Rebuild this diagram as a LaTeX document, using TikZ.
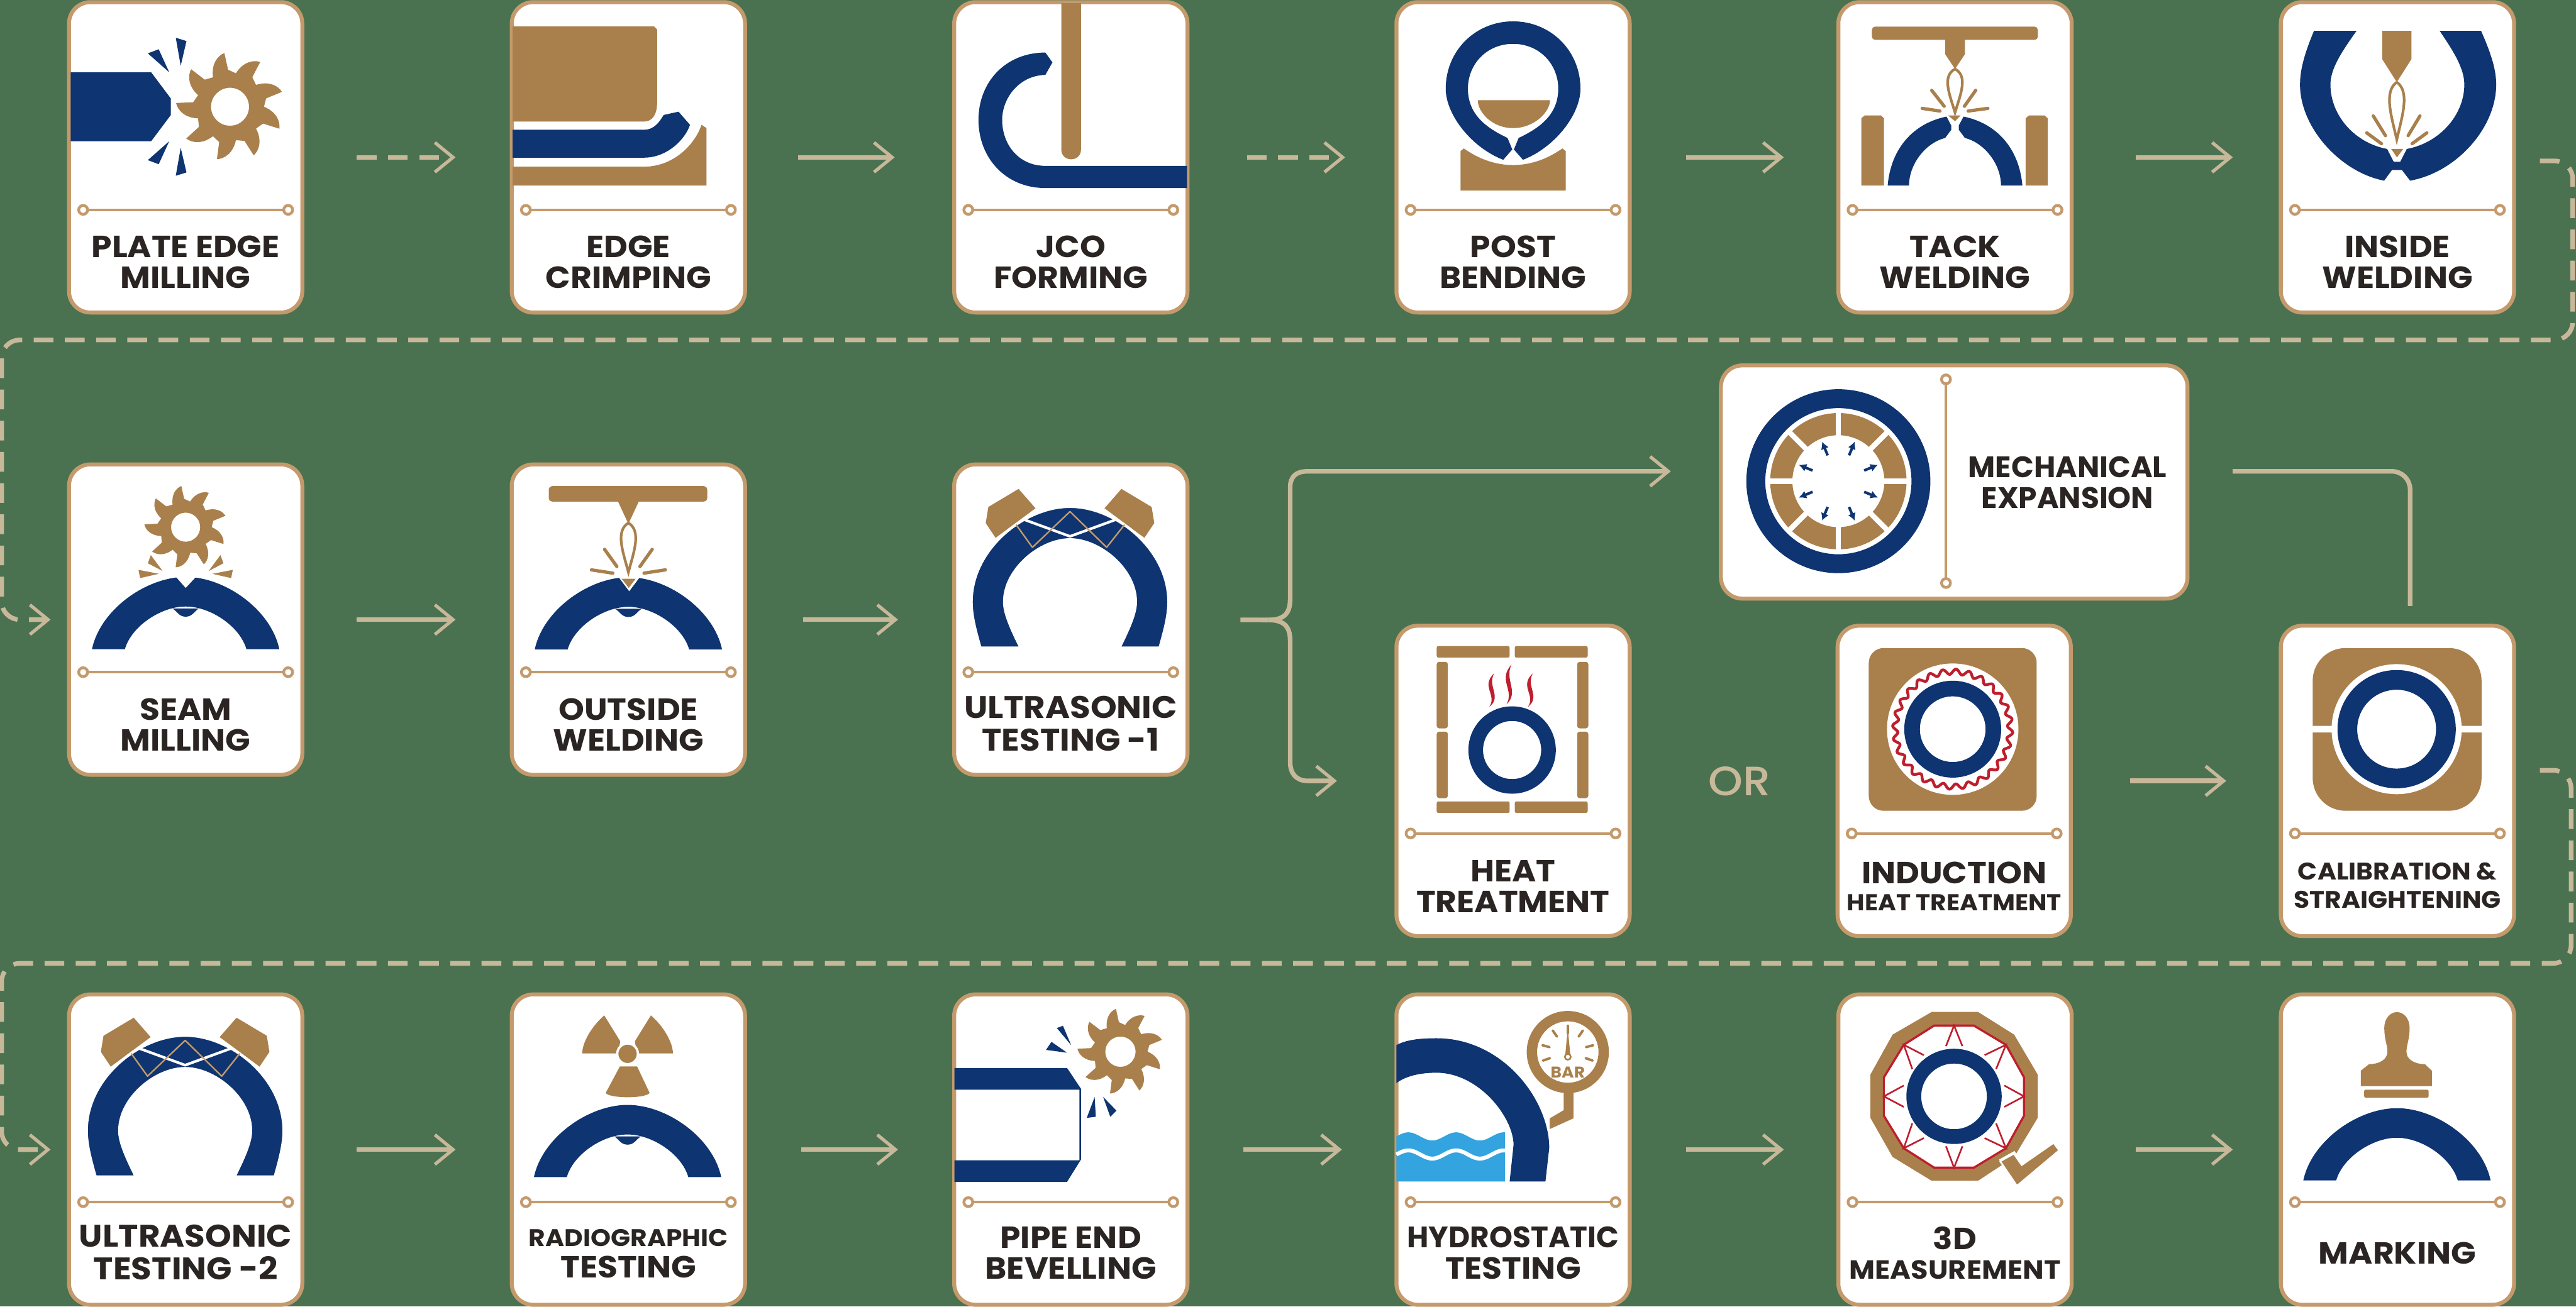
\documentclass[tikz,border=0pt]{standalone}
\usepackage{fontspec}
\setmainfont{Poppins}[FakeStretch=1.07]
\newfontfamily\tightfont{Poppins}
\newfontfamily\orfont{Poppins}[UprightFont=* Medium, FakeStretch=1.07]
\usetikzlibrary{arrows.meta}
\definecolor{bggreen}{RGB}{74,114,80}
\definecolor{cardedge}{RGB}{196,154,108}
\definecolor{brownfill}{RGB}{169,128,76}
\definecolor{pipenavy}{RGB}{14,52,113}
\definecolor{flowtan}{RGB}{200,184,154}
\definecolor{labelink}{RGB}{42,37,35}
\definecolor{heatred}{RGB}{190,30,45}
\definecolor{waterblue}{RGB}{51,164,223}

\tikzset{
  card/.style={draw=cardedge, fill=white, line width=2.4pt, rounded corners=13pt, minimum width=142pt, minimum height=189pt, inner sep=0pt},
  cardwide/.style={card, minimum width=284pt, minimum height=142pt},
  label/.style={inner sep=0pt, align=center, text=labelink, font=\fontsize{18.6}{18.7}\selectfont\bfseries},
  labelbig/.style={label, font=\fontsize{19}{20}\selectfont\bfseries},
  labelsmall/.style={label, font=\fontsize{14.6}{17}\selectfont\bfseries},
  labeltight/.style={label, font=\tightfont\fontsize{18}{18.7}\selectfont\bfseries},
  flowline/.style={draw=flowtan, line width=2.8pt},
  flowarrow/.style={flowline, -{Straight Barb[length=11pt, width=18pt, line width=2pt]}},
  dashflow/.style={flowarrow, dash pattern=on 12pt off 7pt},
  spark/.style={draw=brownfill, line width=2pt, line cap=round},
  divline/.style={draw=cardedge, line width=1.7pt},
  divdot/.style={draw=cardedge, fill=white, line width=1.7pt},
}

% milling cutter: x, y, scale
\newcommand{\cutter}[3]{%
  \begin{scope}[shift={(#1,#2)}, scale=#3]
    \fill[brownfill, even odd rule] (0:22) \foreach \a in {0,40,...,320} {
      .. controls (\a+6:30) and (\a+16:34) .. (\a+24:35) -- (\a+27:24) -- (\a+40:22)} -- cycle
      (0,0) circle (12.3);
  \end{scope}}
% low arch, origin at middle of its base
\newcommand{\lowarch}[2]{%
  \begin{scope}[shift={(#1,#2)}]
    \fill[pipenavy] (-57,0) .. controls (-52,-24) and (-24,-44) .. (0,-44) .. controls (24,-44) and (52,-24) .. (57,0)
      -- (37,0) .. controls (33,-14) and (15,-26) .. (0,-26) .. controls (-15,-26) and (-33,-14) .. (-37,0) -- cycle;
  \end{scope}}
\newcommand{\weldbump}[2]{%
  \fill[pipenavy] (#1-8,#2-26) .. controls (#1-5,#2-24) and (#1-4,#2-21) .. (#1,#2-21) .. controls (#1+4,#2-21) and (#1+5,#2-24) .. (#1+8,#2-26) -- cycle;}
% flame outline: x, y, height
\newcommand{\flame}[3]{%
  \begin{scope}[shift={(#1,#2)}, yscale=#3/30]
    \draw[brownfill, line width=1.6pt] (0,0) .. controls (-8,5) and (-3.5,17) .. (0,30) .. controls (3.5,17) and (8,5) .. (0,0);
  \end{scope}}
% tall arch with probes and sound path
\newcommand{\utarch}[2]{%
  \begin{scope}[shift={(#1,#2)}]
    \fill[brownfill] (-31.3,-96.8) -- (-49.7,-85.8) -- (-51.3,-76) -- (-45.3,-67) -- (-21,-85) -- cycle;
    \fill[brownfill] (31.3,-96.8) -- (49.7,-85.8) -- (51.3,-76) -- (45.3,-67) -- (21,-85) -- cycle;
    \filldraw[fill=pipenavy, draw=white, line width=1.6pt] (-54.6,0) .. controls (-58,-12) and (-60,-20) .. (-60,-28) .. controls (-60,-60) and (-28,-86) .. (0,-86)
      .. controls (28,-86) and (60,-60) .. (60,-28) .. controls (60,-20) and (58,-12) .. (54.6,0)
      -- (30,0) .. controls (37,-14) and (40,-22) .. (40,-28) .. controls (40,-48) and (18,-66) .. (0,-66)
      .. controls (-18,-66) and (-40,-48) .. (-40,-28) .. controls (-40,-22) and (-37,-14) .. (-30,0) -- cycle;
    \draw[white, line width=1.6pt] (-29,-78.5) -- (0,-67.9) -- (29,-78.5);
    \draw[cardedge, line width=.9pt, line join=round] (-32.8,-75) -- (-22.9,-61.2) -- (0,-83) -- (22.3,-61.2) -- (33.2,-75);
  \end{scope}}

\begin{document}
\begin{tikzpicture}[x=1pt, y=-1pt]
\useasboundingbox (0,0) rectangle (1568,795.5);
\fill[bggreen] (0,0) rectangle (1568,795.5);

% Process cards with their divider
\foreach \nm/\cx/\cy in {platemill/113/95.8, crimp/382.5/95.8, jco/651.8/95.8, postbend/921/95.8, tack/1190/95.8, inside/1459.3/95.8,
    seam/113/377.3, outside/382.5/377.3, uttwo/651.8/377.3, heat/921/475.5, induction/1189.5/475.5, calib/1459.3/475.5,
    utfinal/113/700, radio/382.5/700, bevel/651.8/700, hydro/921/700, meas/1190/700, marking/1459.3/700} {
  \node[card] (\nm) at (\cx,\cy) {};
  \draw[divline] (\cx-62.4,\cy+32) -- (\cx+62.4,\cy+32);
  \filldraw[divdot] (\cx-62.4,\cy+32) circle (2.7);
  \filldraw[divdot] (\cx+62.4,\cy+32) circle (2.7);
}
\node[cardwide] (mech) at (1189.5,293.5) {};
\draw[divline] (1184.5,231) -- (1184.5,355);
\filldraw[divdot] (1184.5,231) circle (2.7);
\filldraw[divdot] (1184.5,355) circle (2.7);

% Card labels
\node[label] (platemilltxt) at (113,159.6) {PLATE EDGE\\MILLING};
\node[label] (crimptxt) at (382.5,159.6) {EDGE\\CRIMPING};
\node[label] (jcotxt) at (651.8,159.6) {JCO\\FORMING};
\node[label] (postbendtxt) at (921,159.6) {POST\\BENDING};
\node[label] (tacktxt) at (1190,159.6) {TACK\\WELDING};
\node[label] (insidetxt) at (1459.3,159.6) {INSIDE\\WELDING};
\node[label] (seamtxt) at (113,441.4) {SEAM\\MILLING};
\node[label] (outsidetxt) at (382.5,441.4) {OUTSIDE\\WELDING};
\node[labelbig] (uttwotxt) at (651.8,440.5) {ULTRASONIC\\TESTING -1};
\node[labeltight] (mechtxt) at (1258.5,293.8) {MECHANICAL\\EXPANSION};
\node[label] (heattxt) at (921,539.8) {HEAT\\TREATMENT};
\node[label] (inducttxt) at (1189.5,531.5) {INDUCTION};
\node[labelsmall, font=\fontsize{14}{16}\selectfont\bfseries] (inductsub) at (1189.5,549.6) {HEAT TREATMENT};
\node[labelsmall] (calibtxt) at (1459.3,539.2) {CALIBRATION \&\\STRAIGHTENING};
\node[labelbig] (utfinaltxt) at (113,762.5) {ULTRASONIC\\TESTING -2};
\node[labelsmall] (radiotxt) at (382.5,753.6) {RADIOGRAPHIC};
\node[label] (radiotxtb) at (382.5,771.4) {TESTING};
\node[label] (beveltxt) at (651.8,763) {PIPE END\\BEVELLING};
\node[labeltight] (hydrotxt) at (921,753.4) {HYDROSTATIC};
\node[label] (hydrotxtb) at (921,772.4) {TESTING};
\node[label] (meastxt) at (1190,753.8) {3D};
\node[labelsmall, font=\fontsize{16}{17}\selectfont\bfseries] (meastxtb) at (1190,773) {MEASUREMENT};
\node[label] (markingtxt) at (1459.3,763) {MARKING};
\node[font=\orfont\fontsize{25}{25}\selectfont, text=flowtan, inner sep=0pt] (ortxt) at (1059,475.6) {OR};

% Straight arrows between cards
\draw[dashflow, shorten <=32pt, shorten >=33pt] (platemill) -- (crimp);
\draw[flowarrow, shorten <=31pt, shorten >=35pt] (crimp) -- (jco);
\draw[dashflow, shorten <=35pt, shorten >=30pt] (jco) -- (postbend);
\draw[flowarrow, shorten <=33pt, shorten >=32pt] (postbend) -- (tack);
\draw[flowarrow, shorten <=38pt, shorten >=28pt] (tack) -- (inside);
\draw[flowarrow, shorten <=32pt, shorten >=33pt] (seam) -- (outside);
\draw[flowarrow, shorten <=34pt, shorten >=33pt] (outside) -- (uttwo);
\draw[flowarrow, shorten <=35pt, shorten >=32pt] (induction) -- (calib);
\draw[flowarrow, shorten <=32pt, shorten >=33pt] (utfinal) -- (radio);
\draw[flowarrow, shorten <=33pt, shorten >=33pt] (radio) -- (bevel);
\draw[flowarrow, shorten <=33pt, shorten >=32pt] (bevel) -- (hydro);
\draw[flowarrow, shorten <=33pt, shorten >=32pt] (hydro) -- (meas);
\draw[flowarrow, shorten <=38pt, shorten >=28pt] (meas) -- (marking);

% Fork after first ultrasonic test
\coordinate (forkpt) at (772,377.5);
\coordinate (mechin) at (1017,287);
\coordinate (mechout) at (1359,287);
\coordinate (calibin) at (1467,369);
\draw[flowline, shorten <=31pt] (uttwo.east) -- (forkpt);
\draw[flowarrow] (forkpt) .. controls (781,377.5) and (785.3,374) .. (785.3,365) -- (785.3,297) .. controls (785.3,290) and (789,287) .. (796,287) -- (mechin);
\draw[flowarrow, shorten >=35pt] (forkpt) .. controls (781,377.5) and (785.3,381) .. (785.3,390) -- (785.3,464) .. controls (785.3,471) and (789,475.5) .. (796,475.5) -- (heat.west);
\draw[flowline, rounded corners=11pt] (mechout) -- (1467,287) -- (calibin);

% Dashed returns between rows
\coordinate (rowoneout) at (1546,98);
\coordinate (rowtwoout) at (1546,469);
\draw[dashflow, rounded corners=11pt, shorten >=10pt] (rowoneout) -- (1566,98) -- (1566,207) -- (1,207) -- (1,377.3) -- (seam.west);
\draw[dashflow, rounded corners=11pt, shorten >=10pt] (rowtwoout) -- (1565,469) -- (1565,586.6) -- (1,586.6) -- (1,700) -- (utfinal.west);

% Plate edge milling
\fill[pipenavy] (43,44) -- (92,44) -- (104,60) -- (104,70) -- (92,86) -- (43,86) -- cycle;
\cutter{140}{65}{.94}
\fill[pipenavy] (107,23) -- (113.5,25) -- (110,40) -- cycle (96.6,30) -- (90,32.5) -- (103,44) -- cycle;
\fill[pipenavy] (107,107) -- (113.5,105) -- (110,90) -- cycle (96.6,100) -- (90,97.5) -- (103,86) -- cycle;

% Edge crimping
\fill[brownfill] (312,16) -- (398,16) -- (400,18) -- (400,62) .. controls (400,70) and (397,74) .. (392,74) -- (312,74) -- cycle;
\fill[pipenavy] (312,79) -- (392,79) .. controls (399,79) and (402,73) .. (404,70) -- (413,68) -- (420,76) .. controls (417,85) and (406,96) .. (392,96) -- (312,96) -- cycle;
\fill[brownfill] (312,101.5) -- (392,101.5) .. controls (410,101.5) and (423,88) .. (427,76) -- (430,78) -- (430,113) -- (312,113) -- cycle;

% JCO forming
\fill[brownfill] (646,2) -- (658,2) -- (658,91) .. controls (658,99) and (646,99) .. (646,91) -- cycle;
\fill[pipenavy] (636.3,32) -- (640.6,38) -- (636.3,45.6) .. controls (620,46) and (610,60) .. (610,73) .. controls (610,88) and (620,101) .. (636.3,101) -- (722.5,101) -- (722.5,114.5) -- (636.3,114.5)
  .. controls (612,114.5) and (595.6,96) .. (595.6,73) .. controls (595.6,50) and (612,32) .. (636.3,32) -- cycle;

% Post bending
\fill[brownfill] (889,92) -- (891,90.4) .. controls (899,96) and (909,100.5) .. (921,100.5) .. controls (933,100.5) and (943,96) .. (951,90.4) -- (953,92) -- (953,116) -- (889,116) -- cycle;
\fill[pipenavy] (921,13) .. controls (898,13) and (880,31) .. (880,54) .. controls (880,70) and (896,90) .. (915,97.3) -- (920.5,91) -- (917.6,84) .. controls (905,78) and (893.5,70) .. (893.5,54)
  .. controls (893.5,39) and (905,26.7) .. (921,26.7) .. controls (937,26.7) and (948.5,39) .. (948.5,54) .. controls (948.5,70) and (937,78) .. (924.4,84) -- (921.5,91) -- (927,97.3)
  .. controls (946,90) and (962,70) .. (962,54) .. controls (962,31) and (944,13) .. (921,13) -- cycle;
\fill[brownfill] (899.5,61) -- (943.5,61) .. controls (943.5,68) and (934,78) .. (921,78) .. controls (908,78) and (899.5,68) .. (899.5,61) -- cycle;

% Tack welding
\fill[brownfill, rounded corners=2pt] (1139.4,16.2) rectangle (1240.4,24.3);
\fill[brownfill] (1184,24) -- (1196,24) -- (1196,33) -- (1190,42) -- (1184,33) -- cycle;
\flame{1190}{42}{26.5}
\draw[spark] (1175.8,55) -- (1183.4,64.7) (1202.6,55) -- (1195.7,64.7) (1170,66) -- (1180.8,67.6) (1210,66) -- (1198,67.6);
\fill[brownfill] (1185.8,70.3) -- (1193.4,70.3) -- (1190,73.8) -- cycle;
\fill[brownfill] (1133,113) -- (1133,72) -- (1135,70.3) -- (1145,70.3) -- (1146.7,72) -- (1146.7,113) -- cycle;
\fill[brownfill] (1233,113) -- (1233,72) -- (1235,70.3) -- (1244.5,70.3) -- (1246.4,72) -- (1246.4,113) -- cycle;
\fill[pipenavy] (1149,113) .. controls (1151,90) and (1165,75) .. (1184.8,71) -- (1187.7,76.4) -- (1187.7,79) -- (1184,84) .. controls (1172,87) and (1162,100) .. (1162,113) -- cycle;
\fill[pipenavy] (1231,113) .. controls (1229,90) and (1215,75) .. (1195.2,71) -- (1192.3,76.4) -- (1192.3,79) -- (1196,84) .. controls (1208,87) and (1218,100) .. (1218,113) -- cycle;

% Inside welding
\fill[pipenavy] (1408.5,18.8) .. controls (1403,32) and (1400,42) .. (1400,51.5) .. controls (1400,78) and (1425,105) .. (1451.2,110) -- (1456,103.5) -- (1462,103.5) -- (1467,110)
  .. controls (1495,105) and (1519.4,78) .. (1519.4,51.5) .. controls (1519.4,42) and (1516,32) .. (1510.2,18.8) -- (1485,18.8) .. controls (1494,32) and (1500,42) .. (1500,51.5)
  .. controls (1500,70) and (1485,87) .. (1465,90.7) -- (1461,98.5) -- (1457,98.5) -- (1453,90.7) .. controls (1433,87) and (1418.5,70) .. (1418.5,51.5) .. controls (1418.5,42) and (1425,32) .. (1434.4,18.8) -- cycle;
\fill[brownfill] (1450,18.8) -- (1467.8,18.8) -- (1467.8,36) -- (1458.9,50) -- (1450,36) -- cycle;
\flame{1458.9}{50}{35}
\draw[spark] (1444.6,70.6) -- (1452,82.6) (1473,70.6) -- (1465.8,82.6) (1440.6,80.9) -- (1449.6,87.5) (1477.2,80.9) -- (1468.2,87.5);
\fill[brownfill] (1455.5,90.7) -- (1462.8,90.7) -- (1459,95.8) -- cycle;

% Seam milling
\lowarch{113}{395.3}
\weldbump{113}{396.5}
\fill[white] (106,350) -- (113,358) -- (120.5,350) -- cycle;
\cutter{113}{321}{.72}
\fill[brownfill] (91.8,338) -- (99,347.7) -- (90,343) -- cycle (134.2,338) -- (127,347.7) -- (136,343) -- cycle;
\fill[brownfill] (84.3,347) -- (96.7,349.4) -- (85.3,352) -- cycle (141.7,347) -- (129.3,349.4) -- (140.7,352) -- cycle;

% Outside welding
\lowarch{382.5}{395.5}
\weldbump{382.5}{396.7}
\fill[white] (375.5,350) -- (383,360) -- (390.5,350) -- cycle;
\fill[brownfill] (378.4,352.4) -- (386.9,352.4) -- (382.7,358) -- cycle;
\fill[brownfill, rounded corners=2pt] (334,296) rectangle (430.5,305.4);
\fill[brownfill] (376,305) -- (389,305) -- (382.5,319) -- cycle;
\flame{382.5}{318.4}{30}
\draw[spark] (368,334.5) -- (375.5,345) (397,334.5) -- (389.5,345) (360,347) -- (373,349) (405,347) -- (392,349);

% Ultrasonic tests
\utarch{651.3}{394.5}
\utarch{112.7}{716.5}

% Mechanical expansion
\fill[pipenavy, even odd rule] (1119,293) circle (56) (1119,293) circle (44.5);
\fill[brownfill, even odd rule] (1119,293) circle (41.5) (1119,293) circle (28);
\foreach \a in {0,45,...,315} {
  \draw[white, line width=3.2pt] (1119,293) ++(\a:26) -- ++(\a:17);
  \draw[pipenavy, line width=1.6pt, -{Latex[length=4.5pt, width=5pt]}] (1119,293) ++(\a+22.5:17) -- ++(\a+22.5:9);
}

% Heat treatment
\foreach \bx/\by in {874.5/393.4, 922/393.4, 874.5/488, 922/488} {
  \fill[brownfill, rounded corners=1pt] (\bx,\by) rectangle (\bx+44.4,\by+7);
}
\foreach \bx/\by in {874.5/403, 874.5/445.5, 960/403, 960/445.5} {
  \fill[brownfill, rounded corners=1.5pt] (\bx,\by) rectangle (\bx+6.8,\by+40.5);
}
\fill[pipenavy, even odd rule] (920.4,456.7) circle (26.6) (920.4,456.7) circle (17.7);
\foreach \sx/\sy/\sh in {908/410/1, 918.5/404.7/1.18, 931.5/410/1} {
  \begin{scope}[shift={(\sx,\sy)}, yscale=\sh]
    \fill[heatred] (1.5,0) .. controls (-7,8) and (3.5,13) .. (-1.5,20.5) .. controls (6.5,14) and (-3,8) .. (1.5,0) -- cycle;
  \end{scope}
}

% Induction heat treatment
\fill[brownfill, rounded corners=9pt] (1137.5,394.6) rectangle (1239.7,493.7);
\fill[white] (1188.6,444) circle (40);
\draw[heatred, line width=1.7pt, smooth, domain=0:360, samples=361] plot ({1188.6+(35+1.6*sin(28*\x))*cos(\x)}, {444+(35+1.6*sin(28*\x))*sin(\x)});
\fill[pipenavy, even odd rule] (1188.6,444) circle (29.5) (1188.6,444) circle (20);

% Calibration and straightening
\fill[brownfill, rounded corners=20pt] (1407.7,394.6) rectangle (1510.5,493.7);
\fill[white] (1458.8,444) circle (39.6);
\fill[white] (1405,442) rectangle (1420,446) (1498,442) rectangle (1513,446);
\fill[pipenavy, even odd rule] (1458.8,444) circle (36) (1458.8,444) circle (24);

% Radiographic testing
\lowarch{382}{716.8}
\weldbump{382}{718}
\fill[brownfill] (367.8,618.3) .. controls (360,625) and (354.4,635) .. (354.4,641.4) -- (376.5,641.4) -- (377.5,634) -- cycle;
\fill[brownfill] (396.2,618.3) .. controls (404,625) and (409.6,635) .. (409.6,641.4) -- (387.5,641.4) -- (386.5,634) -- cycle;
\fill[brownfill] (377.3,649.4) -- (387.8,649.4) -- (395.4,665.5) .. controls (393,669) and (371,669) .. (368.7,665.5) -- cycle;
\filldraw[fill=brownfill, draw=white, line width=1.4pt] (382,641.7) circle (6.3);

% Pipe end bevelling
\fill[pipenavy] (581,650.3) -- (649.5,650.3) -- (658,663) -- (658,706) -- (649.5,719.7) -- (581,719.7) -- (581,706.5) -- (657,706.5) -- (657,663.5) -- (581,663.5) -- cycle;
\cutter{682}{640.4}{.75}
\fill[pipenavy] (647,624.6) -- (643.3,626) -- (652,636.4) -- cycle (640,634.4) -- (636.7,639.3) -- (649.5,641) -- cycle;
\fill[pipenavy] (671.5,668) -- (679.6,676.3) -- (675.8,680) -- cycle (666.3,668) -- (661.5,680.7) -- (667,680) -- cycle;

% Hydrostatic testing
\fill[waterblue] plot[domain=850:916, samples=50] (\x,{692-2.5*sin(12.4*(\x-850))}) -- (916,719.4) -- (850,719.4) -- cycle;
\draw[white, line width=2.4pt] plot[domain=850:917, samples=50] (\x,{703-2.5*sin(12.4*(\x-850))});
\fill[pipenavy] (850,636.4) .. controls (856,633) and (865,632.2) .. (874.3,632.2) .. controls (915,632.2) and (943,670) .. (943,699) -- (940.7,719.4) -- (918.9,719.4) -- (921.3,697)
  .. controls (921,680) and (900,653.2) .. (874.3,653.2) .. controls (865,653.2) and (856,655) .. (850,659.5) -- cycle;
\fill[brownfill] (951.8,665) -- (957.7,665) -- (957.7,681) -- (943.3,687.5) -- (943.3,681) -- (951.8,676) -- cycle;
\fill[brownfill, even odd rule] (954.3,640.6) circle (25) (954.3,640.6) circle (18.7);
\foreach \a in {161,195,235,270,305,345,19} {
  \draw[brownfill, line width=1.5pt, line cap=round] (954.3,640.6) ++(\a:11.5) -- ++(\a:4.5);
}
\fill[brownfill] (952.8,642) -- (954.3,626) -- (955.8,642) -- cycle;
\filldraw[fill=white, draw=brownfill, line width=1pt] (954.3,643.5) circle (1.8);
\node[text=brownfill, inner sep=0pt, font=\fontsize{9.5}{10}\selectfont\bfseries] (gaugetxt) at (954.3,653) {BAR};

% 3D measurement
\fill[brownfill] (1175.8,616.2) -- (1204,616.2) -- (1226,630) -- (1240.3,654.3) -- (1240.3,680.7) -- (1226,704.5) -- (1204,719) -- (1175.8,719) -- (1152,704.5) -- (1138.5,680.7) -- (1138.5,654.3) -- (1152,630) -- cycle;
\draw[heatred, fill=white, line width=1.3pt] (1177.3,624.5) -- (1201.5,624.5) -- (1221,636.2) -- (1232,656) -- (1232,679.4) -- (1221,699.2) -- (1201.5,711) -- (1177.3,711) -- (1158.8,699.2) -- (1146.7,679.4) -- (1146.7,656) -- (1158.8,636.2) -- cycle;
\foreach \vx/\vy/\ax/\ay/\bx/\by in {1189.4/624.5/1184.5/637/1194.5/637, 1189.4/711/1184.5/698/1194.5/698, 1146.7/667.6/1158.8/661/1158.8/674, 1232/667.6/1220/661/1220/674,
    1158.8/636.2/1171/642.5/1164/651, 1221/636.2/1208/642.5/1215/651, 1158.8/699.2/1171/693/1164/684, 1221/699.2/1208/693/1215/684} {
  \draw[heatred, line width=1pt] (\ax,\ay) -- (\vx,\vy) -- (\bx,\by);
}
\fill[pipenavy, even odd rule] (1189.4,667.6) circle (29) (1189.4,667.6) circle (20);
\draw[white, line width=2.5pt] (1217.5,707.1) -- (1225.8,702.5) -- (1230.6,709.4);
\filldraw[brownfill, draw=white, line width=1pt] (1217.5,707.1) -- (1225.8,702.5) -- (1230.6,709.4) -- (1250,695.9) -- (1253.4,700.5) -- (1227.7,722.1) -- cycle;

% Marking
\lowarch{1459}{718.8}
\fill[brownfill] (1459,616.3) .. controls (1463,616.3) and (1466.7,620) .. (1466.7,626) .. controls (1466.7,634) and (1464,638) .. (1465,642) .. controls (1466,646) and (1471,648) .. (1476,648)
  -- (1480.3,652) -- (1480.3,661.3) -- (1437,661.3) -- (1437,652) -- (1442,648) .. controls (1447,648) and (1452,646) .. (1453,642) .. controls (1454,638) and (1451.3,634) .. (1451.3,626)
  .. controls (1451.3,620) and (1455,616.3) .. (1459,616.3) -- cycle;
\fill[brownfill, rounded corners=1pt] (1439,663.5) rectangle (1478.3,668.4);
\end{tikzpicture}
\end{document}
